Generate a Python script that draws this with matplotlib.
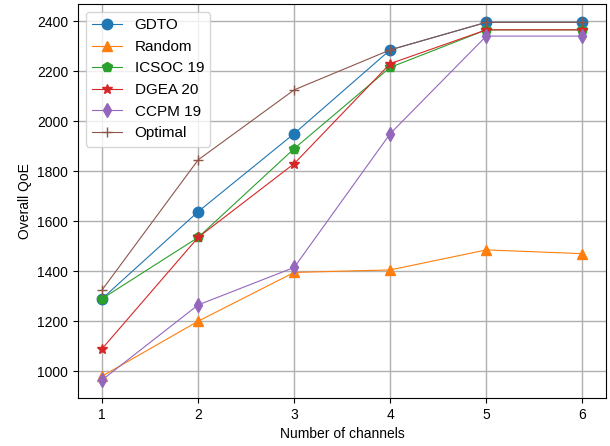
import matplotlib
matplotlib.use("Agg")
import matplotlib.pyplot as plt

plt.rcParams["font.family"] = ["Liberation Sans", "DejaVu Sans"]

channels = [1, 2, 3, 4, 5, 6]
gdto = [1290, 1638, 1950, 2285, 2395, 2395]
random_ = [980, 1200, 1395, 1405, 1485, 1470]
icsoc19 = [1290, 1535, 1890, 2215, 2365, 2365]
dgea20 = [1090, 1535, 1830, 2230, 2365, 2365]
ccpm19 = [965, 1265, 1415, 1950, 2340, 2340]
optimal = [1325, 1845, 2125, 2285, 2395, 2395]

fig, ax = plt.subplots(figsize=(6.1, 4.46), dpi=100)

series = [
    (gdto, "GDTO", "o", "tab:blue"),
    (random_, "Random", "^", "tab:orange"),
    (icsoc19, "ICSOC 19", "p", "tab:green"),
    (dgea20, "DGEA 20", "*", "tab:red"),
    (ccpm19, "CCPM 19", "d", "tab:purple"),
    (optimal, "Optimal", "+", "tab:brown"),
]
for vals, label, marker, color in series:
    ax.plot(channels, vals, marker=marker, color=color, label=label,
            linewidth=0.8, markersize=7.5)

ax.set_xlabel("Number of channels")
ax.set_ylabel("Overall QoE")
ax.grid(True, color="#b0b0b0", linewidth=1)
ax.legend(loc="upper left", fontsize=11)
fig.subplots_adjust(left=0.128, right=0.994, top=0.99, bottom=0.108)
fig.savefig("out.png", dpi=100)
